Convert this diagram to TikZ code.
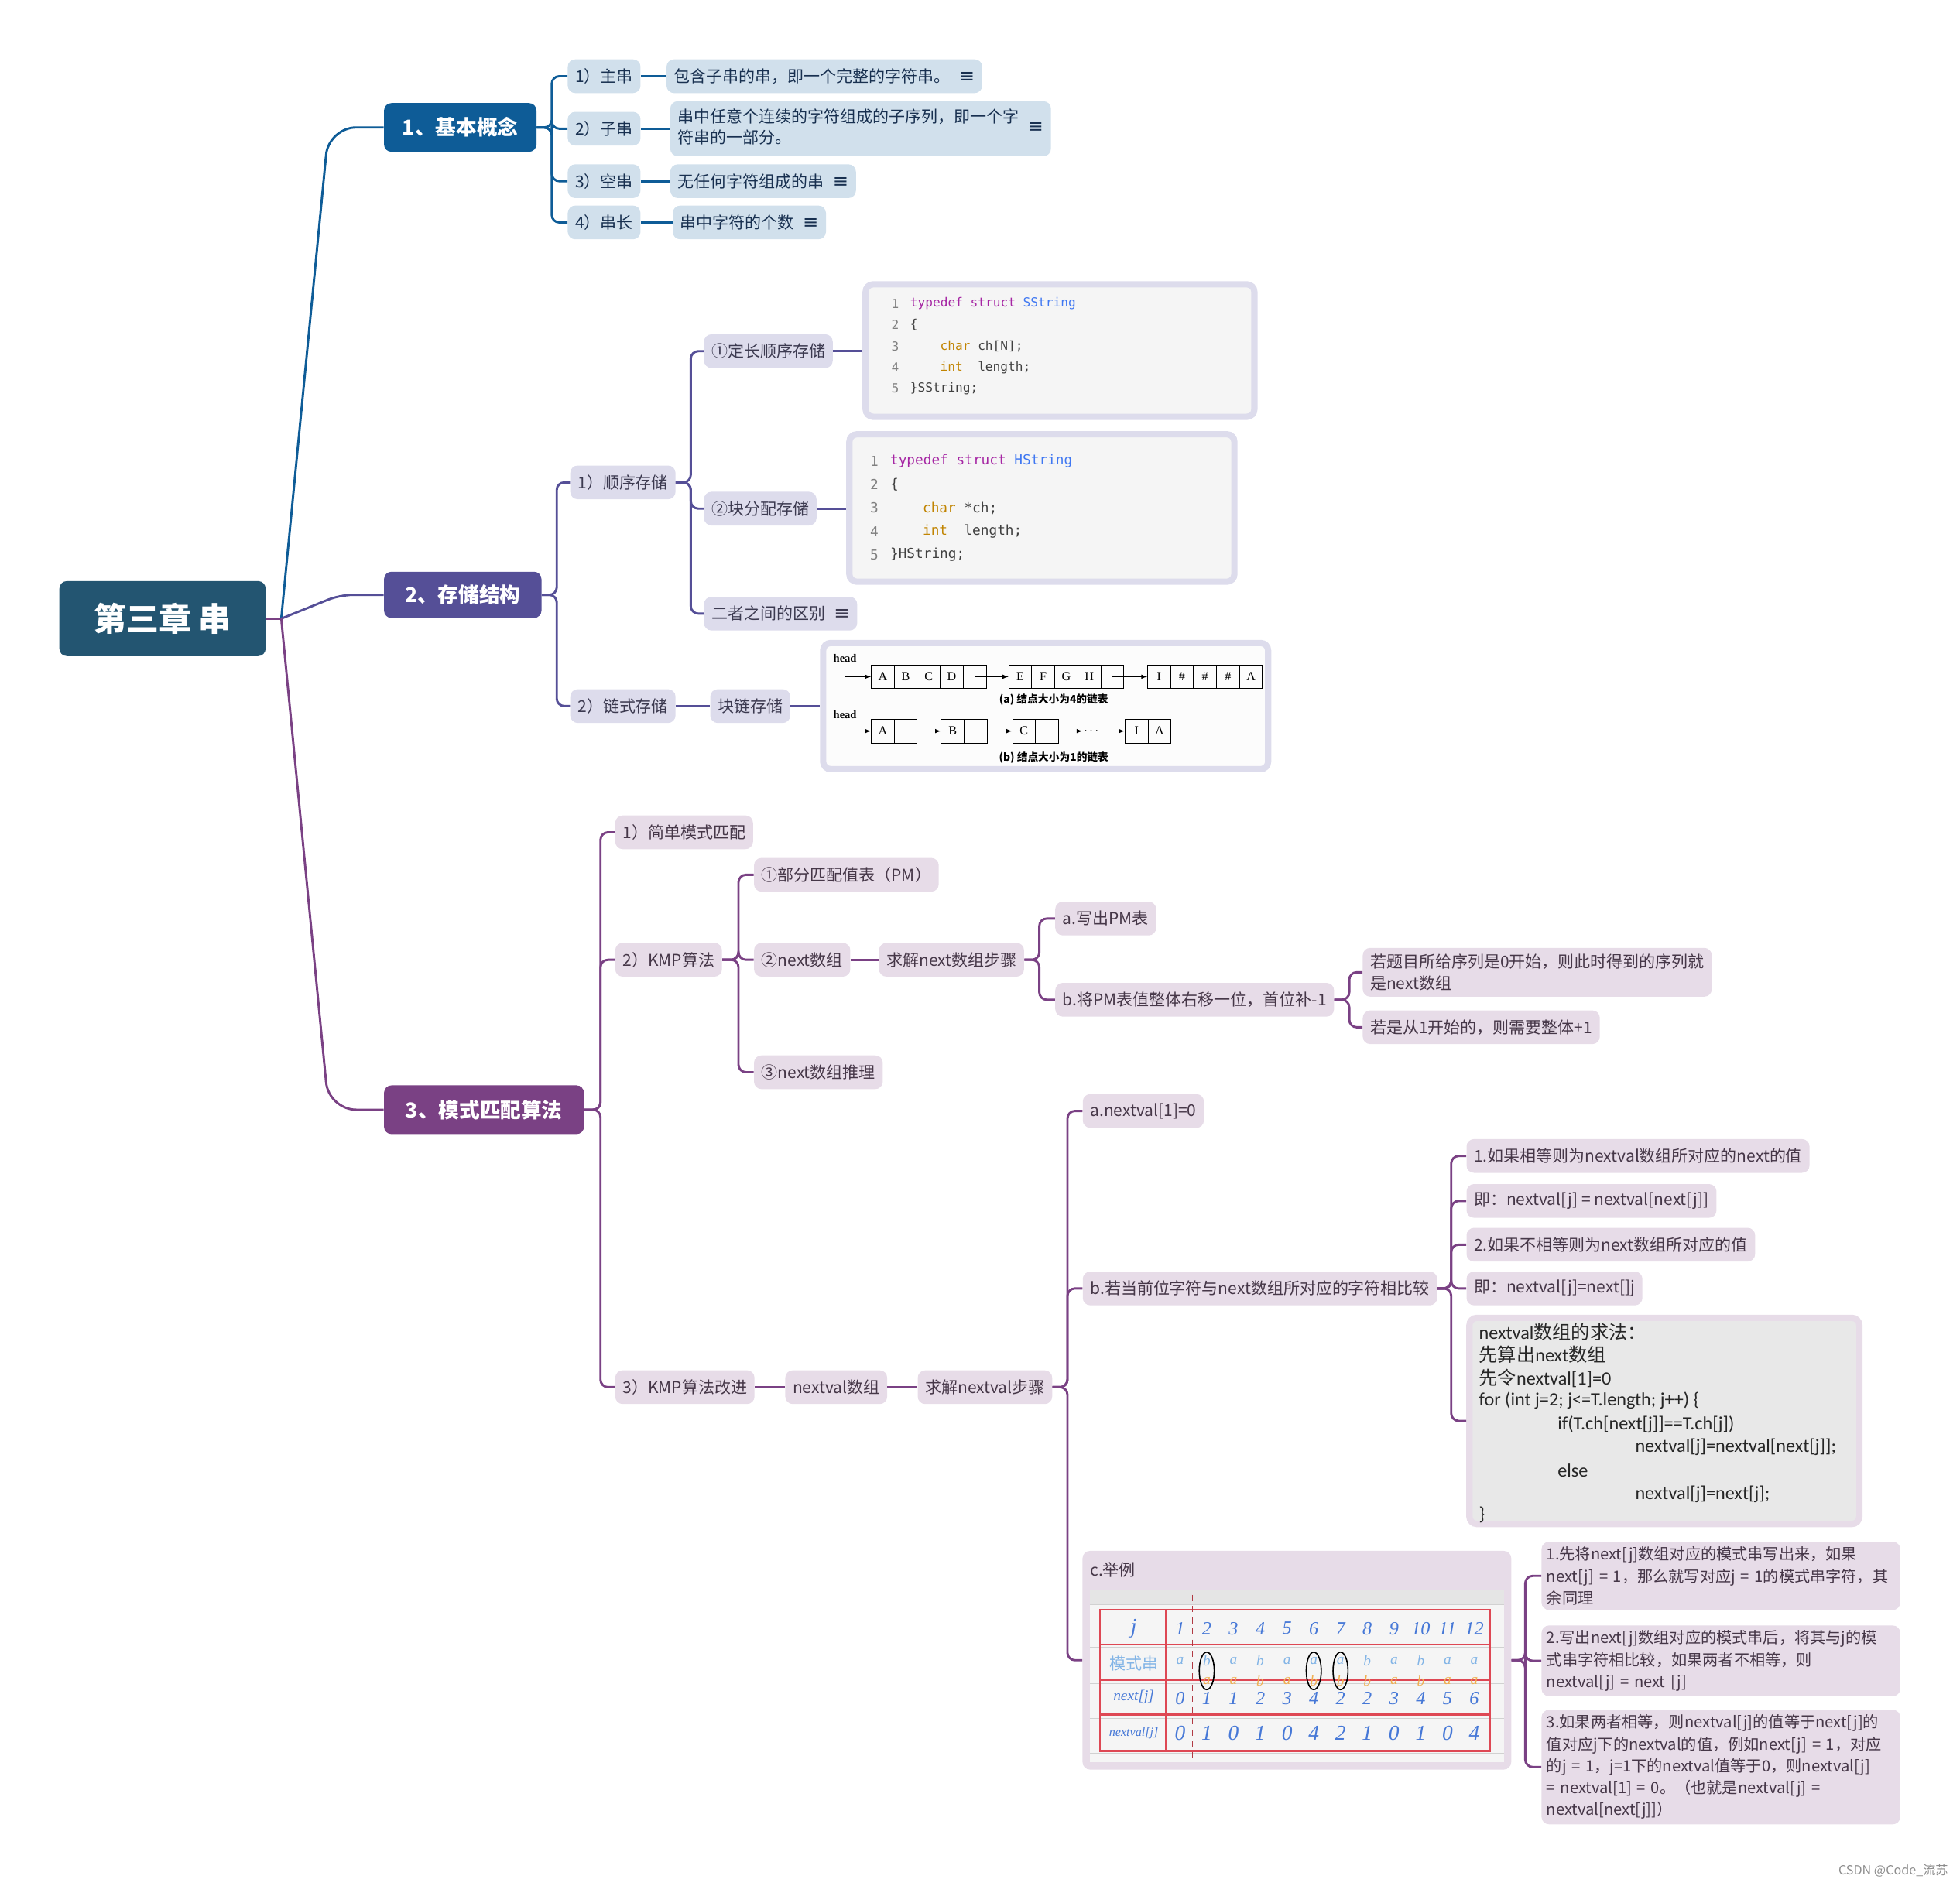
\documentclass[tikz,border=0pt]{standalone}
\usepackage{fontspec}
\setmainfont{Noto Sans CJK SC}
\newfontfamily\codefont{DejaVu Sans Mono}
\newfontfamily\calib{Carlito}
\newfontfamily\llfont{Liberation Serif}
\newfontfamily\symfont{DejaVu Sans}
\definecolor{rootc}{RGB}{35,85,113}
\definecolor{blueA}{RGB}{14,92,151}
\definecolor{lightA}{RGB}{209,224,236}
\definecolor{textA}{RGB}{24,48,80}
\definecolor{purpB}{RGB}{85,79,151}
\definecolor{lightB}{RGB}{221,220,236}
\definecolor{textB}{RGB}{60,58,80}
\definecolor{purpC}{RGB}{122,65,132}
\definecolor{lightC}{RGB}{231,220,232}
\definecolor{textC}{RGB}{70,55,72}
\definecolor{codemag}{RGB}{166,38,164}
\definecolor{codeblue}{RGB}{64,120,242}
\definecolor{codeochre}{RGB}{193,132,1}
\definecolor{tabr}{RGB}{222,72,84}
\definecolor{hblue}{RGB}{70,120,215}
\definecolor{hlight}{RGB}{130,180,230}
\definecolor{horange}{RGB}{240,175,80}
\newcommand\noteicon{\hspace{7pt}{\symfont\fontsize{15}{15}\selectfont ≡}}
\newcommand\ckw[1]{\textcolor{codemag}{#1}}
\newcommand\cty[1]{\textcolor{codeblue}{#1}}
\newcommand\cvt[1]{\textcolor{codeochre}{#1}}
\tikzset{
  box/.style={anchor=west, rounded corners=6pt, minimum height=27pt, inner xsep=6pt, inner ysep=3pt, font=\fontsize{13}{17}\selectfont},
  topbox/.style={anchor=west, rounded corners=6pt, text=white, minimum height=39pt, font=\fontsize{16.5}{20}\selectfont\bfseries},
  nodeA/.style={box, fill=lightA, text=textA},
  nodeB/.style={box, fill=lightB, text=textB},
  nodeC/.style={box, fill=lightC, text=textC},
  longC/.style={nodeC, text width=279pt, align=left, inner xsep=4pt, inner ysep=4pt, font=\fontsize{12.5}{17.5}\selectfont},
  linkA/.style={draw=blueA, line width=1.8pt, rounded corners=6pt},
  linkB/.style={draw=purpB, line width=1.8pt, rounded corners=6pt},
  linkC/.style={draw=purpC, line width=1.8pt, rounded corners=6pt},
  frame/.style={draw=lightB, line width=5pt, fill=black!4, rounded corners=6pt, inner sep=0pt},
  code/.style={anchor=west, inner sep=0pt, font=\codefont\fontsize{10}{12}\selectfont, text=black!75},
  codeII/.style={code, font=\codefont\fontsize{11}{13}\selectfont},
  algo/.style={anchor=west, inner sep=0pt, text=black!85, font=\fontsize{15}{18}\selectfont},
  cell/.style={draw, line width=.6pt, minimum width=18.4pt, minimum height=19pt, inner sep=0pt, font=\llfont\fontsize{10}{10}\selectfont},
  listcap/.style={inner sep=1pt, font=\fontsize{8.5}{10}\selectfont\bfseries},
  hand/.style={inner sep=0pt, text=hblue, font=\llfont\itshape\fontsize{15}{15}\selectfont},
  tabline/.style={draw=tabr, line width=1.6pt}
}
\begin{document}
\begin{tikzpicture}[x=1pt,y=-1pt]
\useasboundingbox (0,0) rectangle (1568,1509);

% Root and main branches
\node[fill=rootc, text=white, rounded corners=6pt, minimum width=165pt, minimum height=60pt, font=\fontsize{26}{30}\selectfont\bfseries] (root) at (130,495) {第三章 串};
\node[topbox, fill=blueA, minimum width=122pt] (base) at (307,102) {1、基本概念};
\node[topbox, fill=purpB, minimum width=126pt, minimum height=37pt] (store) at (307,476) {2、存储结构};
\node[topbox, fill=purpC, minimum width=160pt] (match) at (307,888) {3、模式匹配算法};

\coordinate (hub) at (225,495);
\draw[line width=1.8pt, purpC] (root.east) -- (hub);
\draw[line width=1.8pt, blueA, rounded corners=22pt] (hub) -- (263,102) -- (base.west);
\draw[line width=1.8pt, purpB, rounded corners=10pt] (hub) -- (272,476) -- (store.west);
\draw[line width=1.8pt, purpC, rounded corners=22pt] (hub) -- (263,888) -- (match.west);

% 1 basic concepts
\node[nodeA] (s1) at (454,61) {1）主串};
\node[nodeA] (s2) at (454,103) {2）子串};
\node[nodeA] (s3) at (454,145) {3）空串};
\node[nodeA] (s4) at (454,178) {4）串长};
\node[nodeA] (s1-d) at (533,61) {包含子串的串，即一个完整的字符串。\noteicon};
\node[nodeA, inner ysep=5pt] (s2-d) at (536,103) {\begin{tabular}{@{}l@{}}串中任意个连续的字符组成的子序列，即一个字\\符串的一部分。\end{tabular}\noteicon};
\node[nodeA] (s3-d) at (536,145) {无任何字符组成的串\noteicon};
\node[nodeA] (s4-d) at (538,178) {串中字符的个数\noteicon};
\foreach \nd in {1,...,4} {
  \draw[linkA] (base.east) -- ++(12,0) |- (s\nd.west);
  \draw[linkA] (s\nd.east) -- (s\nd-d.west);
}

% 2 storage
\node[nodeB] (seq) at (456,386) {1）顺序存储};
\node[nodeB] (link) at (456,565) {2）链式存储};
\node[nodeB] (fix) at (563,281) {①定长顺序存储};
\node[nodeB] (heap) at (563,407) {②块分配存储};
\node[nodeB] (diff) at (563,491) {二者之间的区别\noteicon};
\node[nodeB] (blk) at (568,565) {块链存储};
\node[frame, minimum width=311pt, minimum height=106pt] (sstr) at (848,280.5) {};
\node[frame, minimum width=308pt, minimum height=118pt] (hstr) at (833.5,406.5) {};
\node[frame, fill=black!1, minimum width=356pt, minimum height=101pt] (chain) at (836.5,565) {};
\foreach \nd in {seq,link} \draw[linkB] (store.east) -- ++(12,0) |- (\nd.west);
\foreach \nd in {fix,heap,diff} \draw[linkB] (seq.east) -- ++(12,0) |- (\nd.west);
\draw[linkB] (fix.east) -- (fix.east -| sstr.west);
\draw[linkB] (heap.east) -- (heap.east -| hstr.west);
\draw[linkB] (link.east) -- (blk.west);
\draw[linkB] (blk.east) -- (blk.east -| chain.west);

% code listings
\foreach \n in {1,...,5} \node[code, text=gray] at (713,{226+17*\n}) {\n};
\node[code] at (728,243) {\ckw{typedef struct} \cty{SString}};
\node[code] at (728,260) {\{};
\node[code] at (752,277) {\cvt{char} ch[N];};
\node[code] at (752,294) {\cvt{int}\ \ length;};
\node[code] at (728,311) {\}SString;};
\foreach \n in {1,...,5} \node[codeII, text=gray] at (696,{350.25+18.75*\n}) {\n};
\node[codeII] at (712,369) {\ckw{typedef struct} \cty{HString}};
\node[codeII] at (712,388) {\{};
\node[codeII] at (738,407) {\cvt{char} *ch;};
\node[codeII] at (738,425) {\cvt{int}\ \ length;};
\node[codeII] at (712,444) {\}HString;};

% linked lists
\begin{scope}[line width=.6pt]
  \node[inner sep=1pt, font=\llfont\bfseries\fontsize{9}{9}\selectfont] (ha) at (676,527) {head};
  \foreach \t [count=\i from 0] in {A,B,C,D,{}} \node[cell] (a\i) at ({706.2+18.4*\i},541.5) {\t};
  \foreach \t [count=\i from 0] in {E,F,G,H,{}} \node[cell] (e\i) at ({816.2+18.4*\i},541.5) {\t};
  \foreach \t [count=\i from 0] in {I,\#,\#,\#,Λ} \node[cell] (i\i) at ({927.2+18.4*\i},541.5) {\t};
  \draw[-latex] (ha.south) |- (a0.west);
  \draw[-latex] (a4.center) -- (e0.west);
  \draw[-latex] (e4.center) -- (i0.west);
  \node[listcap] at (843,560) {(a) 结点大小为4的链表};
  \node[inner sep=1pt, font=\llfont\bfseries\fontsize{9}{9}\selectfont] (hb) at (676,572) {head};
  \foreach \t [count=\i from 0] in {A,{}} \node[cell] (ba\i) at ({706.2+18.4*\i},585) {\t};
  \foreach \t [count=\i from 0] in {B,{}} \node[cell] (bb\i) at ({762.2+18.4*\i},585) {\t};
  \foreach \t [count=\i from 0] in {C,{}} \node[cell] (bc\i) at ({819.2+18.4*\i},585) {\t};
  \foreach \t [count=\i from 0] in {I,Λ} \node[cell] (bi\i) at ({909.2+18.4*\i},585) {\t};
  \node[inner sep=1pt] (dots) at (873,585) {$\cdots$};
  \draw[-latex] (hb.south) |- (ba0.west);
  \draw[-latex] (ba1.center) -- (bb0.west);
  \draw[-latex] (bb1.center) -- (bc0.west);
  \draw[-latex] (bc1.center) -- (dots.west);
  \draw[-latex] (dots.east) -- (bi0.west);
  \node[listcap] at (843,606) {(b) 结点大小为1的链表};
\end{scope}

% 3 pattern matching
\node[nodeC] (simple) at (492,666) {1）简单模式匹配};
\node[nodeC] (kmp) at (492,768) {2）KMP算法};
\node[nodeC] (kmpv) at (492,1110) {3）KMP算法改进};
\foreach \nd in {simple,kmp,kmpv} \draw[linkC] (match.east) -- ++(13,0) |- (\nd.west);
\node[nodeC] (pm) at (603,700) {①部分匹配值表（PM）};
\node[nodeC] (nxt) at (603,768) {②next数组};
\node[nodeC] (why) at (603,858) {③next数组推理};
\foreach \nd in {pm,nxt,why} \draw[linkC] (kmp.east) -- ++(13,0) |- (\nd.west);
\node[nodeC] (nsteps) at (703,768) {求解next数组步骤};
\draw[linkC] (nxt.east) -- (nsteps.west);
\node[nodeC] (pa) at (844,735) {a.写出PM表};
\node[nodeC] (pb) at (844,800) {b.将PM表值整体右移一位，首位补-1};
\foreach \nd in {pa,pb} \draw[linkC] (nsteps.east) -- ++(12,0) |- (\nd.west);
\node[nodeC, align=left, inner ysep=5pt] (pb1) at (1090,778) {若题目所给序列是0开始，则此时得到的序列就\\是next数组};
\node[nodeC] (pb2) at (1090,822) {若是从1开始的，则需要整体+1};
\foreach \nd in {pb1,pb2} \draw[linkC] (pb.east) -- ++(12,0) |- (\nd.west);

% nextval
\node[nodeC] (nv) at (628,1110) {nextval数组};
\node[nodeC] (nvsteps) at (734,1110) {求解nextval步骤};
\draw[linkC] (kmpv.east) -- (nv.west);
\draw[linkC] (nv.east) -- (nvsteps.west);
\node[nodeC] (va) at (866,889) {a.nextval[1]=0};
\node[nodeC] (vb) at (866,1031) {b.若当前位字符与next数组所对应的字符相比较};
\node[fill=lightC, rounded corners=6pt, minimum width=343pt, minimum height=175pt, inner sep=0pt] (vc) at (1037.5,1328.5) {};
\foreach \nd in {va,vb,vc} \draw[linkC] (nvsteps.east) -- ++(12,0) |- (\nd.west);

\node[nodeC] (e1) at (1173,925) {1.如果相等则为nextval数组所对应的next的值};
\node[nodeC] (e2) at (1173,961) {即：nextval[j] = nextval[next[j]]};
\node[nodeC] (e3) at (1173,996) {2.如果不相等则为next数组所对应的值};
\node[nodeC] (e4) at (1173,1031) {即：nextval[j]=next[]j};
\node[frame, draw=lightC, fill=black!9, minimum width=312pt, minimum height=165pt] (algo) at (1331.5,1137) {};
\foreach \nd in {e1,e2,e3,e4,algo} \draw[linkC] (vb.east) -- ++(11,0) |- (\nd.west);
\node[algo] at (1183,1066) {{\calib nextval}数组的求法：};
\node[algo] at (1183,1084) {先算出{\calib next}数组};
\node[algo] at (1183,1103) {先令{\calib nextval[1]=0}};
\node[algo] at (1183,1121) {\calib for (int j=2; j<=T.length; j++) \{};
\node[algo] at (1246,1140) {\calib if(T.ch[next[j]]==T.ch[j])};
\node[algo] at (1308,1158) {\calib nextval[j]=nextval[next[j]];};
\node[algo] at (1246,1177) {\calib else};
\node[algo] at (1308,1196) {\calib nextval[j]=next[j];};
\node[algo] at (1183,1212) {\calib \}};

% example table
\node[anchor=west, inner sep=0pt, text=textC, font=\fontsize{13}{17}\selectfont] at (872,1256) {c.举例};
\fill[black!4] (872,1272) rectangle (1203,1410);
\fill[black!10] (872,1272) rectangle (1203,1284);
\foreach \y in {1284,1318,1347,1375,1403} \draw[black!18, line width=.5pt] (872,\y) -- (1203,\y);
\draw[tabline] (880,1288) rectangle (1192,1401);
\foreach \y in {1316,1344,1372} \draw[tabline] (880,\y) -- (1192,\y);
\draw[tabline] (933,1288) -- (933,1401);
\draw[tabr!80!black, line width=.6pt, dash pattern=on 5pt off 4pt] (954,1276) -- (954,1410);
\node[hand, font=\llfont\itshape\fontsize{17}{17}\selectfont] at (907,1303) {j};
\node[inner sep=0pt, text=hlight, font=\fontsize{13}{13}\selectfont] at (907,1331) {模式串};
\node[hand, font=\llfont\itshape\fontsize{12}{12}\selectfont] at (907,1358) {next[j]};
\node[hand, font=\llfont\itshape\fontsize{10}{10}\selectfont] at (907,1387) {nextval[j]};
\foreach \v [count=\j] in {1,...,12} \node[hand] at ({944+21.4*(\j-1)},1303) {\v};
\foreach \v [count=\j] in {a,b,a,b,a,a,a,b,a,b,a,a} \node[hand, text=hlight, font=\llfont\itshape\fontsize{12}{12}\selectfont] at ({944+21.4*(\j-1)},1329) {\v};
\foreach \v [count=\j from 2] in {a,a,b,a,b,b,b,a,b,a,a} \node[hand, text=horange, font=\llfont\itshape\fontsize{12}{12}\selectfont] at ({944+21.4*(\j-1)},1345) {\v};
\foreach \v [count=\j] in {0,1,1,2,3,4,2,2,3,4,5,6} \node[hand] at ({944+21.4*(\j-1)},1359) {\v};
\foreach \v [count=\j] in {0,1,0,1,0,4,2,1,0,1,0,4} \node[hand, font=\llfont\itshape\fontsize{17}{17}\selectfont] at ({944+21.4*(\j-1)},1387) {\v};
\foreach \j in {2,6,7} \draw[line width=1pt] ({944+21.4*(\j-1)},1337) ellipse (6pt and 15pt);

\node[longC] (f1) at (1233,1261) {1.先将next[j]数组对应的模式串写出来，如果\\next[j] = 1，那么就写对应j = 1的模式串字符，其\\余同理};
\node[longC] (f2) at (1233,1329) {2.写出next[j]数组对应的模式串后，将其与j的模\\式串字符相比较，如果两者不相等，则\\nextval[j] = next [j]};
\node[longC] (f3) at (1233,1414) {3.如果两者相等，则nextval[j]的值等于next[j]的\\值对应j下的nextval的值，例如next[j] = 1，对应\\的j = 1，j=1下的nextval值等于0，则nextval[j]\\= nextval[1] = 0。（也就是nextval[j] =\\nextval[next[j]]）};
\foreach \nd in {f1,f2,f3} \draw[linkC] (vc.east) -- ++(11,0) |- (\nd.west);

\node[anchor=east, text=black!45, font=\fontsize{10}{12}\selectfont] at (1562,1497) {CSDN @Code\_流苏};
\end{tikzpicture}
\end{document}
